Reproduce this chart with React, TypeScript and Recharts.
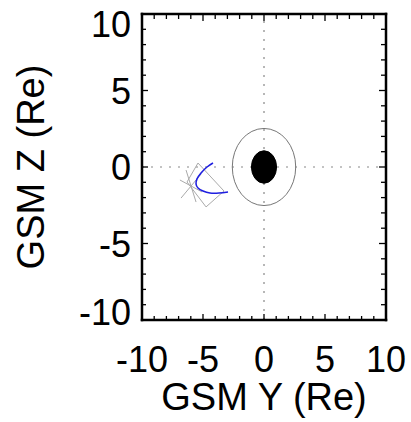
import React from 'react';
import { ScatterChart, Scatter, XAxis, YAxis, ReferenceLine } from 'recharts';

const FONT = 'Liberation Sans, Arial, Helvetica, sans-serif';

const tickValues = [-10, -9, -8, -7, -6, -5, -4, -3, -2, -1, 0, 1, 2, 3, 4, 5, 6, 7, 8, 9, 10];

// Earth (filled) and the ring around it, given by their extreme points
const earthPoints = [
  { x: -1.03, y: 0 }, { x: 0, y: 1.06 }, { x: 1.03, y: 0 }, { x: 0, y: -1.06 },
];
const ringPoints = [
  { x: -2.6, y: 0 }, { x: 0, y: 2.52 }, { x: 2.6, y: 0 }, { x: 0, y: -2.52 },
];

// Blue trace
const blueTrace = [
  { x: -4.18, y: 0.26 },
  { x: -4.67, y: 0.0 },
  { x: -5.16, y: -0.39 },
  { x: -5.49, y: -0.78 },
  { x: -5.57, y: -1.11 },
  { x: -5.41, y: -1.37 },
  { x: -5.0, y: -1.57 },
  { x: -4.43, y: -1.7 },
  { x: -3.69, y: -1.7 },
  { x: -2.95, y: -1.63 },
];

// Gray glyphs
const grayStarA = [{ x: -6.8, y: -2.03 }, { x: -5.16, y: -0.46 }];
const grayStarB = [{ x: -6.89, y: -0.85 }, { x: -5.08, y: -1.63 }];
const grayStarC = [{ x: -6.39, y: -0.2 }, { x: -5.57, y: -2.29 }];
const grayDiamond = [
  { x: -5.41, y: 0.26 },
  { x: -3.28, y: -1.57 },
  { x: -4.75, y: -2.61 },
  { x: -6.31, y: -0.98 },
  { x: -5.41, y: 0.26 },
];

const NoDot = () => <g />;

const ellipseLine = (fill: string, stroke: string, sw: number) => (props: any) => {
  const pts: { x: number; y: number }[] = props.points || [];
  if (!pts.length) return <g />;
  const xs = pts.map((p) => p.x);
  const ys = pts.map((p) => p.y);
  const minX = Math.min(...xs), maxX = Math.max(...xs);
  const minY = Math.min(...ys), maxY = Math.max(...ys);
  return (
    <ellipse
      cx={(minX + maxX) / 2}
      cy={(minY + maxY) / 2}
      rx={(maxX - minX) / 2}
      ry={(maxY - minY) / 2}
      fill={fill}
      stroke={stroke}
      strokeWidth={sw}
    />
  );
};

const MAJ = 6;
const MIN = 4;

const BottomTick = (p: any) => {
  const { x, y, payload } = p;
  const v = payload.value;
  const major = v % 5 === 0;
  return (
    <g>
      <line x1={x} x2={x} y1={y} y2={y - (major ? MAJ : MIN)} stroke="#000" strokeWidth={1.3} />
      {major && (
        <text x={x} y={y + 52} textAnchor="middle" fontSize={36} fontFamily={FONT} fill="#000">
          {String(v)}
        </text>
      )}
    </g>
  );
};

const TopTick = (p: any) => {
  const { x, y, payload } = p;
  const v = payload.value;
  const major = v % 5 === 0;
  return <line x1={x} x2={x} y1={y + 1} y2={y + 1 + (major ? MAJ : MIN)} stroke="#000" strokeWidth={1.3} />;
};

const LeftTick = (p: any) => {
  const { x, y, payload } = p;
  const v = payload.value;
  const major = v % 5 === 0;
  const dy = v === 10 ? 23 : v === -10 ? 5 : 13;
  return (
    <g>
      <line x1={x} x2={x + (major ? MAJ : MIN)} y1={y} y2={y} stroke="#000" strokeWidth={1.3} />
      {major && (
        <text x={x - 11} y={y + dy} textAnchor="end" fontSize={36} fontFamily={FONT} fill="#000">
          {String(v)}
        </text>
      )}
    </g>
  );
};

const RightTick = (p: any) => {
  const { x, y, payload } = p;
  const v = payload.value;
  const major = v % 5 === 0;
  return <line x1={x - 1} x2={x - 1 - (major ? MAJ : MIN)} y1={y} y2={y} stroke="#000" strokeWidth={1.3} />;
};

const XLabel = (p: any) => {
  const vb = p.viewBox || { x: 142, y: 320, width: 244, height: 102 };
  return (
    <text x={vb.x + vb.width / 2} y={vb.y + 90} textAnchor="middle" fontSize={38} fontFamily={FONT} fill="#000">
      GSM Y (Re)
    </text>
  );
};

const YLabel = (p: any) => {
  const vb = p.viewBox || { x: 0, y: 14, width: 142, height: 306 };
  const cx = 44;
  const cy = vb.y + vb.height / 2;
  return (
    <text
      x={cx}
      y={cy}
      textAnchor="middle"
      fontSize={38}
      fontFamily={FONT}
      fill="#000"
      transform={`rotate(-90 ${cx} ${cy})`}
    >
      GSM Z (Re)
    </text>
  );
};

const axisLine = { stroke: '#000', strokeWidth: 2.5, strokeLinecap: 'square' as const };

export default function App() {
  return (
    <div style={{ position: 'absolute', left: 0, top: 0, width: 411, height: 422, background: '#fff' }}>
      <ScatterChart width={411} height={422} margin={{ top: 13, right: 24, bottom: 0, left: 0 }}>
        <XAxis
          xAxisId={0}
          type="number"
          dataKey="x"
          domain={[-10, 10]}
          ticks={tickValues}
          interval={0}
          orientation="bottom"
          height={102}
          tickLine={false}
          tickSize={0}
          tickMargin={0}
          axisLine={axisLine}
          tick={BottomTick}
          allowDataOverflow
          label={<XLabel />}
        />
        <XAxis
          xAxisId="top"
          type="number"
          dataKey="x"
          domain={[-10, 10]}
          ticks={tickValues}
          interval={0}
          orientation="top"
          height={1}
          tickLine={false}
          tickSize={0}
          tickMargin={0}
          axisLine={axisLine}
          tick={TopTick}
          allowDataOverflow
        />
        <YAxis
          yAxisId={0}
          type="number"
          dataKey="y"
          domain={[-10, 10]}
          ticks={tickValues}
          interval={0}
          orientation="left"
          width={142}
          tickLine={false}
          tickSize={0}
          tickMargin={0}
          axisLine={axisLine}
          tick={LeftTick}
          allowDataOverflow
          label={<YLabel />}
        />
        <YAxis
          yAxisId="right"
          type="number"
          dataKey="y"
          domain={[-10, 10]}
          ticks={tickValues}
          interval={0}
          orientation="right"
          width={1}
          tickLine={false}
          tickSize={0}
          tickMargin={0}
          axisLine={axisLine}
          tick={RightTick}
          allowDataOverflow
        />
        <ReferenceLine x={0} xAxisId={0} yAxisId={0} stroke="#888" strokeWidth={1.2} strokeDasharray="2 7" />
        <ReferenceLine y={0} xAxisId={0} yAxisId={0} stroke="#888" strokeWidth={1.2} strokeDasharray="2 7" />
        <Scatter
          xAxisId={0}
          yAxisId={0}
          data={ringPoints}
          shape={NoDot}
          line={ellipseLine('none', '#777', 1)}
          isAnimationActive={false}
        />
        <Scatter
          xAxisId={0}
          yAxisId={0}
          data={earthPoints}
          shape={NoDot}
          line={ellipseLine('#000', '#000', 1)}
          isAnimationActive={false}
        />
        {[grayStarA, grayStarB, grayStarC, grayDiamond].map((d, i) => (
          <Scatter
            key={i}
            xAxisId={0}
            yAxisId={0}
            data={d}
            shape={NoDot}
            line={{ stroke: '#aaaaaa', strokeWidth: 1 }}
            fill="#aaaaaa"
            isAnimationActive={false}
          />
        ))}
        <Scatter
          xAxisId={0}
          yAxisId={0}
          data={blueTrace}
          shape={NoDot}
          line={{ stroke: '#1f1fe0', strokeWidth: 1.6 }}
          lineJointType="natural"
          fill="#1f1fe0"
          isAnimationActive={false}
        />
      </ScatterChart>
    </div>
  );
}
